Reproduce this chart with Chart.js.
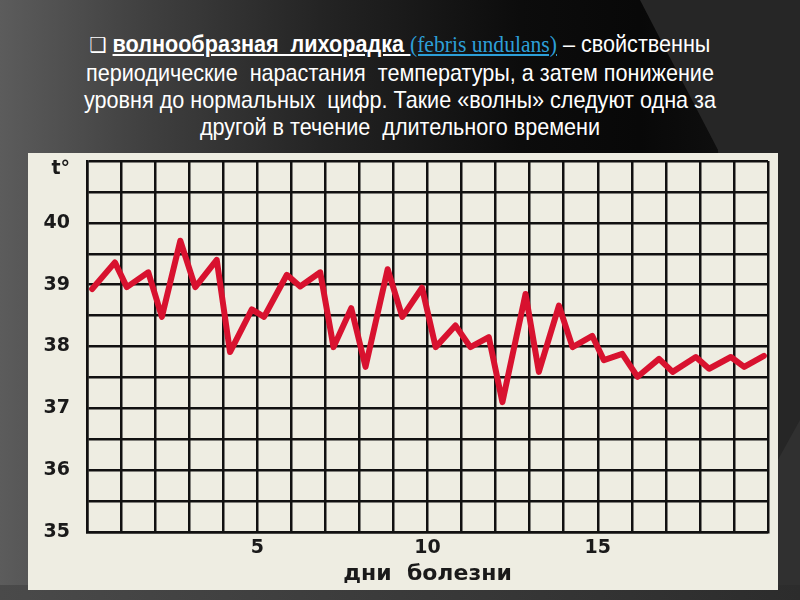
<!DOCTYPE html>
<html>
<head>
<meta charset="utf-8">
<script src="https://cdn.jsdelivr.net/npm/chart.js@4/dist/chart.umd.min.js"></script>
<style>
  html, body { margin: 0; padding: 0; }
  body {
    width: 800px; height: 600px; overflow: hidden; position: relative;
    background: linear-gradient(90deg, #5c5c5c 0%, #404040 18%, #242424 40%, #0c0c0c 65%, #080808 80%, #151515 100%);
  }
  #band {
    position: absolute; left: 0; top: 0; width: 800px; height: 600px;
    background: #262626;
    clip-path: polygon(640px 0, 800px 0, 800px 600px, 740px 600px, 718px 150px);
  }
  #band2 {
    position: absolute; left: 0; top: 0; width: 800px; height: 600px;
    background: #303030;
    clip-path: polygon(800px 420px, 800px 600px, 700px 600px);
  }
  #bottom {
    position: absolute; left: 0; top: 585px; width: 800px; height: 15px;
    background: linear-gradient(90deg, #4a4a4a 0%, #3a3a3a 50%, #2c2c2c 100%);
  }
  #title {
    position: absolute; left: 0; top: 30px; width: 800px;
    text-align: center; color: #ffffff;
    font-family: "Liberation Sans", Arial, sans-serif;
    font-size: 24px; line-height: 27px; white-space: pre;
    transform: scaleX(0.9); transform-origin: 400px 0;
  }
  #title .box { font-family: "DejaVu Sans", sans-serif; font-size: 21px; }
  #title .lat { font-family: "Liberation Serif", "Times New Roman", serif; color: #2d9fd8; text-decoration: underline; }
  #panel {
    position: absolute; left: 28px; top: 153px; width: 750px; height: 437px;
    background: #eeede2;
  }
  canvas { display: block; }
</style>
</head>
<body>
<div id="band"></div>
<div id="band2"></div>
<div id="bottom"></div>
<div id="title"><span class="box">❑</span> <b><u>волнообразная  лихорадка </u></b><span class="lat">(febris undulans)</span> – свойственны
периодические  нарастания  температуры, а затем понижение
уровня до нормальных  цифр. Такие «волны» следуют одна за
другой в течение  длительного времени</div>
<div id="panel"><canvas id="c" width="750" height="437"></canvas></div>
<script>
// Day of illness (fractional: morning / evening readings)
const days = [0.15, 0.82, 1.17, 1.80, 2.20, 2.74, 3.18, 3.81, 4.20, 4.84,
              5.20, 5.87, 6.26, 6.85, 7.24, 7.76, 8.18, 8.83, 9.26, 9.84,
              10.24, 10.82, 11.26, 11.80, 12.20, 12.88, 13.27, 13.86, 14.26, 14.84,
              15.18, 15.72, 16.17, 16.80, 17.20, 17.88, 18.27, 18.91, 19.30, 19.88];
// Body temperature, °C
const temps = [38.93, 39.36, 38.96, 39.20, 38.48, 39.71, 38.96, 39.40, 37.91, 38.60,
               38.48, 39.16, 38.97, 39.20, 37.99, 38.62, 37.67, 39.25, 38.48, 38.95,
               37.99, 38.34, 37.99, 38.15, 37.10, 38.85, 37.59, 38.66, 37.99, 38.17,
               37.78, 37.88, 37.51, 37.80, 37.59, 37.83, 37.64, 37.83, 37.67, 37.85];
const xTickLabels = [5, 10, 15];
const yTickLabels = [35, 36, 37, 38, 39, 40];
const yTopLabel = 't°';
const xAxisTitle = 'дни  болезни';

const points = days.map((d, i) => ({ x: d, y: temps[i] }));
const gridColor = '#111111';
const tickFont = { family: '"DejaVu Sans", "Liberation Sans", sans-serif', size: 19, weight: 'bold' };
const topTickFont = { family: '"DejaVu Sans", "Liberation Sans", sans-serif', size: 19, weight: 'bold', lineHeight: 0.8 };
const titleFont = { family: '"DejaVu Sans", "Liberation Sans", sans-serif', size: 22, weight: 'bold' };

new Chart(document.getElementById('c'), {
  type: 'line',
  data: {
    datasets: [{
      data: points,
      borderColor: '#d8122f',
      borderWidth: 6,
      pointRadius: 0,
      borderJoinStyle: 'round',
      borderCapStyle: 'round',
      tension: 0,
      fill: false
    }]
  },
  options: {
    responsive: false,
    animation: false,
    devicePixelRatio: 1,
    layout: { padding: { left: 0, top: 8, right: 10, bottom: 0 } },
    plugins: { legend: { display: false }, tooltip: { enabled: false } },
    scales: {
      x: {
        type: 'linear', min: 0, max: 20,
        afterFit: s => { s.height = 58; s.paddingLeft = 0; s.paddingRight = 0; },
        grid: { color: gridColor, lineWidth: 2.5, drawTicks: false },
        border: { color: gridColor, width: 2.5 },
        ticks: {
          stepSize: 1, autoSkip: false, maxRotation: 0, padding: 5,
          color: '#1a1a1a', font: tickFont,
          callback: v => xTickLabels.includes(v) ? String(v) : ''
        },
        title: {
          display: true, text: xAxisTitle, color: '#1a1a1a', font: titleFont,
          padding: { top: 0, bottom: 3 }
        }
      },
      y: {
        type: 'linear', min: 35, max: 41,
        afterFit: s => { s.width = 59; s.paddingTop = 0; s.paddingBottom = 0; },
        grid: { color: gridColor, lineWidth: 2.5, drawTicks: false },
        border: { color: gridColor, width: 2.5 },
        ticks: {
          stepSize: 0.5, autoSkip: false, padding: 17,
          color: '#1a1a1a',
          font: ctx => (ctx.tick && ctx.tick.value === 41) ? topTickFont : tickFont,
          callback: v => v === 41 ? ['', yTopLabel] : (yTickLabels.includes(v) ? String(v) : '')
        }
      }
    }
  }
});
</script>
</body>
</html>
